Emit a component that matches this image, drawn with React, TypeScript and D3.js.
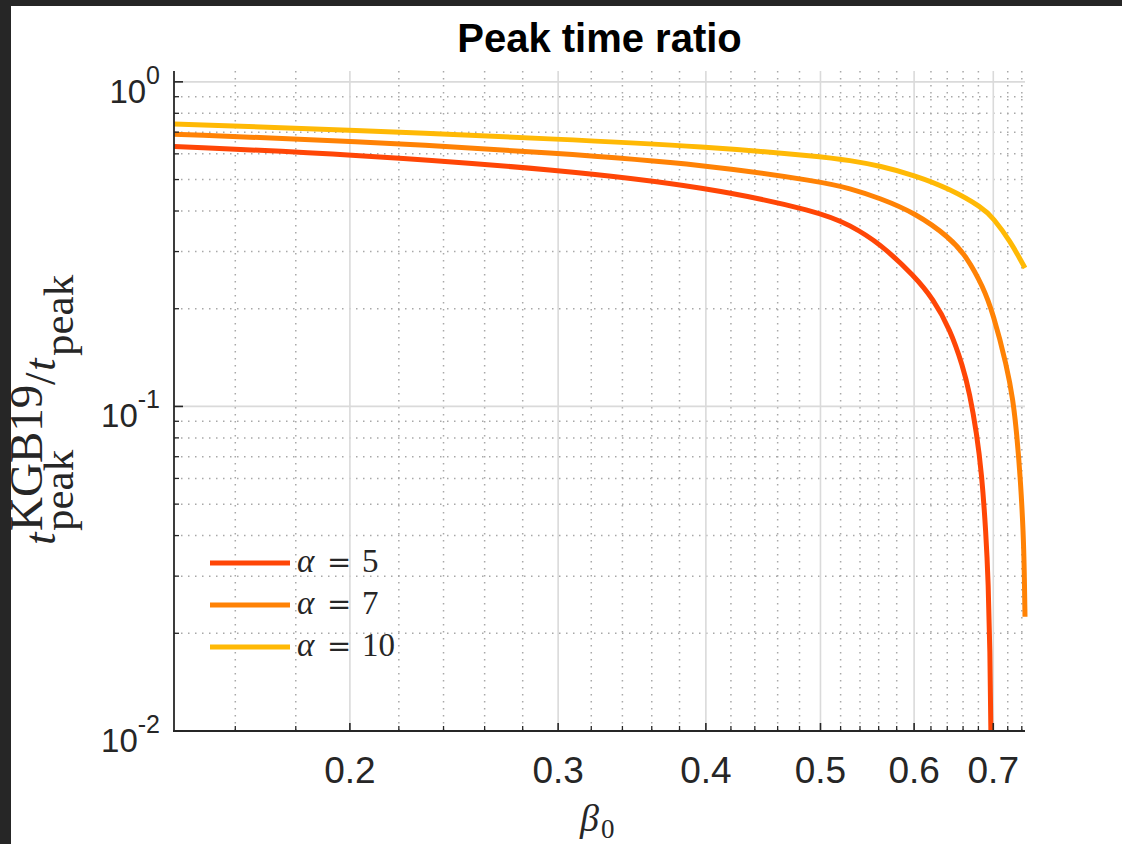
import React, { useEffect } from "react";
import * as d3 from "d3";

// ---- data ----
const alphaValues = [5, 7, 10];

const beta5 = [0.1420, 0.2, 0.3011, 0.4008, 0.4995, 0.5295, 0.5614, 0.6010, 0.6225, 0.6434, 0.6599, 0.6684, 0.6777, 0.6844, 0.6901, 0.6932, 0.6955, 0.6969, 0.6976];
const ratio5 = [0.632, 0.599, 0.536, 0.474, 0.398, 0.362, 0.318, 0.251, 0.2145, 0.1733, 0.1327, 0.110, 0.0828, 0.062, 0.0408, 0.0286, 0.0178, 0.0100, 0.005];

const beta7 = [0.1420, 0.2, 0.3011, 0.4008, 0.4995, 0.5295, 0.5614, 0.6010, 0.6434, 0.6647, 0.6861, 0.6996, 0.7189, 0.7274, 0.7327, 0.7384, 0.7421, 0.7436, 0.7446];
const ratio7 = [0.690, 0.659, 0.603, 0.555, 0.493, 0.470, 0.438, 0.395, 0.331, 0.289, 0.234, 0.194, 0.1327, 0.1047, 0.0828, 0.0581, 0.0408, 0.031, 0.0225];

const beta10 = [0.1420, 0.2, 0.3011, 0.4008, 0.4995, 0.5295, 0.5614, 0.6010, 0.6434, 0.6861, 0.6996, 0.7232, 0.7446];
const ratio10 = [0.742, 0.711, 0.666, 0.631, 0.589, 0.573, 0.551, 0.515, 0.468, 0.409, 0.381, 0.324, 0.267];

const xMajorTicks = [0.2, 0.3, 0.4, 0.5, 0.6, 0.7];
const xTickLabels = ["0.2", "0.3", "0.4", "0.5", "0.6", "0.7"];
const xMinorTicks = [0.16, 0.18, 0.22, 0.24, 0.26, 0.28, 0.32, 0.34, 0.36, 0.38, 0.42, 0.44, 0.46, 0.48, 0.52, 0.54, 0.56, 0.58, 0.62, 0.64, 0.66, 0.68, 0.72, 0.74];
const yMajorTicks = [0.01, 0.1, 1];
const yTickExponents = ["-2", "-1", "0"];
const yMinorTicks = [0.02, 0.03, 0.04, 0.05, 0.06, 0.07, 0.08, 0.09, 0.2, 0.3, 0.4, 0.5, 0.6, 0.7, 0.8, 0.9];

const xDomain = [0.1420, 0.7446];
const yDomain = [0.01, 1.08];

// ---- styles ----
const colors = ["#ff4606", "#ff8205", "#ffb905"];
const sansFont = "'Liberation Sans', Arial, Helvetica, sans-serif";
const serifFont = "'Liberation Serif', 'Times New Roman', serif";
const axisColor = "#262626";

export default function App() {
  useEffect(() => {
    document.body.style.margin = "0";
    document.body.style.overflow = "hidden";
  }, []);

  const W = 1122, H = 844;
  const left = 174, right = 1025, top = 71, bottom = 731;
  const x = d3.scaleLog().domain(xDomain).range([left, right]);
  const y = d3.scaleLog().domain(yDomain).range([bottom, top]);

  const series = [
    { b: beta5, r: ratio5 },
    { b: beta7, r: ratio7 },
    { b: beta10, r: ratio10 },
  ];
  const line = d3
    .line<[number, number]>()
    .x((d) => x(d[0]))
    .y((d) => y(d[1]))
    .curve(d3.curveBasis);

  const legendY = [563, 605, 647];

  return (
    <svg width={W} height={H} style={{ position: "absolute", left: 0, top: 0, background: "#fff" }}>
      <defs>
        <clipPath id="plotClip">
          <rect x={left} y={top} width={right - left + 4} height={bottom - top} />
        </clipPath>
      </defs>
      <rect x={0} y={0} width={W} height={H} fill="#fff" />
      {/* dark frame of the screenshot */}
      <rect x={0} y={0} width={W} height={6} fill="#262626" />
      <rect x={0} y={0} width={11} height={H} fill="#262626" />

      {/* minor grid */}
      {xMinorTicks.map((v, i) => (
        <line key={"xmg" + i} x1={x(v)} x2={x(v)} y1={top} y2={bottom} stroke="#a8a8a8" strokeWidth={1.5} strokeDasharray="1.5 5.5" />
      ))}
      {yMinorTicks.map((v, i) => (
        <line key={"ymg" + i} x1={left} x2={right} y1={y(v)} y2={y(v)} stroke="#a8a8a8" strokeWidth={1.5} strokeDasharray="1.5 5.5" />
      ))}
      {/* major grid */}
      {xMajorTicks.map((v, i) => (
        <line key={"xg" + i} x1={x(v)} x2={x(v)} y1={top} y2={bottom} stroke="#dadada" strokeWidth={1.6} />
      ))}
      {yMajorTicks.map((v, i) => (
        <line key={"yg" + i} x1={left} x2={right} y1={y(v)} y2={y(v)} stroke="#dadada" strokeWidth={1.6} />
      ))}

      {/* curves */}
      <g clipPath="url(#plotClip)">
        {series.map((s, i) => (
          <path
            key={"s" + i}
            d={line(s.b.map((b, j) => [b, s.r[j]] as [number, number])) || ""}
            fill="none"
            stroke={colors[i]}
            strokeWidth={5}
            strokeLinejoin="round"
          />
        ))}
      </g>

      {/* axes */}
      <line x1={left} x2={left} y1={top} y2={bottom + 1} stroke={axisColor} strokeWidth={1.8} />
      <line x1={left - 1} x2={right} y1={bottom} y2={bottom} stroke={axisColor} strokeWidth={1.8} />
      {xMajorTicks.map((v, i) => (
        <line key={"xt" + i} x1={x(v)} x2={x(v)} y1={bottom} y2={bottom - 8} stroke={axisColor} strokeWidth={1.6} />
      ))}
      {xMinorTicks.map((v, i) => (
        <line key={"xmt" + i} x1={x(v)} x2={x(v)} y1={bottom} y2={bottom - 5} stroke={axisColor} strokeWidth={1.3} />
      ))}
      {yMajorTicks.map((v, i) => (
        <line key={"yt" + i} x1={left} x2={left + 9} y1={y(v)} y2={y(v)} stroke={axisColor} strokeWidth={1.6} />
      ))}
      {yMinorTicks.map((v, i) => (
        <line key={"ymt" + i} x1={left} x2={left + 5} y1={y(v)} y2={y(v)} stroke={axisColor} strokeWidth={1.3} />
      ))}

      {/* x tick labels */}
      {xMajorTicks.map((v, i) => (
        <text key={"xl" + i} x={x(v)} y={783} textAnchor="middle" fontFamily={sansFont} fontSize={37} fill={axisColor}>
          {xTickLabels[i]}
        </text>
      ))}
      {/* y tick labels 10^n */}
      {yMajorTicks.map((v, i) => (
        <text key={"yl" + i} x={left - 14} y={y(v) + 21} textAnchor="end" fontFamily={sansFont} fontSize={33} fill={axisColor}>
          10
          <tspan dy={-19} fontSize={25}>
            {yTickExponents[i]}
          </tspan>
        </text>
      ))}

      {/* title */}
      <text x={(left + right) / 2} y={52} textAnchor="middle" fontFamily={sansFont} fontWeight="bold" fontSize={40} fill="#000">
        Peak time ratio
      </text>

      {/* x label */}
      <text x={580} y={831} fontFamily={serifFont} fontStyle="italic" fontSize={38} fill={axisColor}>
        β
      </text>
      <text x={601} y={838} fontFamily={serifFont} fontSize={27} fill={axisColor}>
        0
      </text>

      {/* y label (rotated) */}
      <g transform="rotate(-90)" fontFamily={serifFont} fill={axisColor}>
        <text x={-545} y={55} fontStyle="italic" fontSize={45}>t</text>
        <text x={-531} y={42} fontSize={47}>KGB19</text>
        <text x={-531} y={73} fontSize={43}>peak</text>
        <text x={-385} y={55} fontSize={45}>/</text>
        <text x={-371} y={55} fontStyle="italic" fontSize={45}>t</text>
        <text x={-356} y={73} fontSize={43}>peak</text>
      </g>

      {/* legend */}
      {alphaValues.map((a, i) => (
        <g key={"lg" + i}>
          <line x1={210} x2={290} y1={legendY[i]} y2={legendY[i]} stroke={colors[i]} strokeWidth={5} />
          <text x={297} y={legendY[i] + 9} fontFamily={serifFont} fontStyle="italic" fontSize={33} fill={axisColor}>
            α
          </text>
          <text x={327} y={legendY[i] + 9} fontFamily="'DejaVu Serif', serif" fontSize={29} fill={axisColor}>
            =
          </text>
          <text x={362} y={legendY[i] + 9} fontFamily={serifFont} fontSize={33} fill={axisColor}>
            {String(a)}
          </text>
        </g>
      ))}
    </svg>
  );
}
